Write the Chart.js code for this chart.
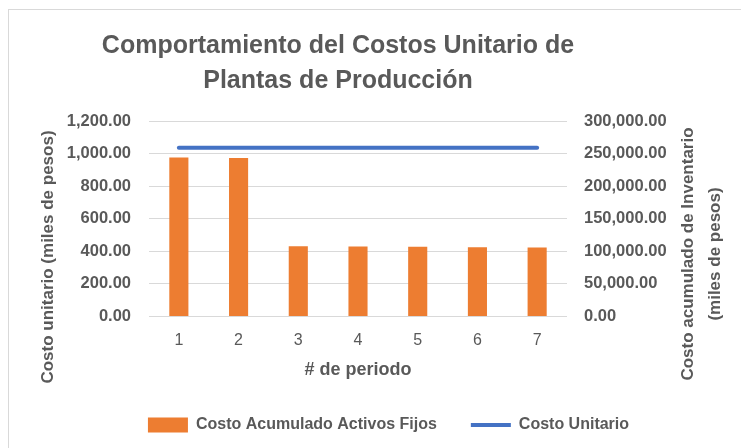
<!DOCTYPE html>
<html>
<head>
<meta charset="utf-8">
<script src="https://cdn.jsdelivr.net/npm/chart.js@4"></script>
<style>
  body { margin: 0; background: #fff; overflow: hidden; width: 741px; height: 448px; position: relative; }
  #frame { position: absolute; left: 8px; top: 9px; width: 800px; height: 500px; border: 1px solid #d9d9d9; }
  #chart { position: absolute; left: 36px; top: 0; }
</style>
</head>
<body>
<div id="frame"></div>
<canvas id="chart" width="705" height="448"></canvas>
<script>
const periods = ["1", "2", "3", "4", "5", "6", "7"];
const costoAcumulado = [244000, 243000, 107400, 106850, 106350, 105800, 105300];
const costoUnitario = [1036, 1036, 1036, 1036, 1036, 1036, 1036];
const leftTickLabels = ["0.00", "200.00", "400.00", "600.00", "800.00", "1,000.00", "1,200.00"];
const rightTickLabels = ["0.00", "50,000.00", "100,000.00", "150,000.00", "200,000.00", "250,000.00", "300,000.00"];

const grey = "#595959";
Chart.defaults.font.family = "'Liberation Sans', Arial, sans-serif";
Chart.defaults.color = grey;

// titles drawn by hand so they can sit where Excel puts them
const textPlugin = {
    id: "textPlugin",
    afterDraw(chart) {
        const c = chart.ctx;
        c.save();
        c.fillStyle = grey;
        c.textAlign = "center";
        c.font = "bold 25px 'Liberation Sans', Arial, sans-serif";
        c.textBaseline = "alphabetic";
        c.fillText("Comportamiento del Costos Unitario de", 302, 53);
        c.fillText("Plantas de Producción", 302, 88);

        c.font = "bold 17px 'Liberation Sans', Arial, sans-serif";
        c.textBaseline = "middle";
        c.save();
        c.translate(12, 257);
        c.rotate(-Math.PI / 2);
        c.fillText("Costo unitario (miles de pesos)", 0, 0);
        c.restore();

        c.save();
        c.translate(652, 254);
        c.rotate(-Math.PI / 2);
        c.fillText("Costo acumulado de Inventario", 0, 0);
        c.fillText("(miles de pesos)", 0, 27);
        c.restore();
        c.restore();
    }
};

const ctx = document.getElementById("chart");
const chart = new Chart(ctx, {
    data: {
        labels: periods,
        datasets: [
            {
                type: "line",
                label: "Costo Unitario",
                data: costoUnitario,
                yAxisID: "y",
                borderColor: "#4472C4",
                backgroundColor: "#4472C4",
                borderWidth: 4,
                borderCapStyle: "round",
                pointRadius: 0,
                order: 0,
            },
            {
                type: "bar",
                label: "Costo Acumulado Activos Fijos",
                data: costoAcumulado,
                yAxisID: "y1",
                backgroundColor: "#ED7D31",
                borderWidth: 0,
                barPercentage: 0.32,
                categoryPercentage: 1,
                order: 1,
            },
        ],
    },
    options: {
        responsive: false,
        animation: false,
        layout: { padding: { top: 121, left: 0, right: 0, bottom: 5 } },
        scales: {
            x: {
                grid: { display: false, drawTicks: false },
                border: { display: false },
                ticks: { padding: 15, font: { size: 16 } },
                title: {
                    display: true,
                    text: "# de periodo",
                    font: { size: 18, weight: "bold" },
                    padding: { top: 9, bottom: 2 },
                },
                afterFit: (s) => { s.height = 67; },
            },
            y: {
                position: "left",
                min: 0,
                max: 1200,
                grid: { color: "#d9d9d9", drawTicks: false },
                border: { display: false },
                ticks: {
                    stepSize: 200,
                    padding: 18,
                    font: { size: 16.5, weight: "bold" },
                    callback: (v, i) => leftTickLabels[i],
                },
                afterFit: (s) => { s.width = 113; },
            },
            y1: {
                position: "right",
                min: 0,
                max: 300000,
                grid: { display: false, drawTicks: false },
                border: { display: false },
                ticks: {
                    stepSize: 50000,
                    padding: 17,
                    font: { size: 16.5, weight: "bold" },
                    callback: (v, i) => rightTickLabels[i],
                },
                afterFit: (s) => { s.width = 174; },
            },
        },
        plugins: {
            legend: {
                position: "bottom",
                reverse: true,
                labels: {
                    usePointStyle: true,
                    pointStyleWidth: 40,
                    boxHeight: 15,
                    padding: 34,
                    color: grey,
                    font: { size: 16, weight: "bold" },
                    generateLabels: (chart) => {
                        const items = Chart.defaults.plugins.legend.labels.generateLabels(chart);
                        items.forEach(item => {
                            const ds = chart.data.datasets[item.datasetIndex];
                            item.pointStyle = ds.type === "line" ? "line" : "rect";
                            if (ds.type !== "line") item.lineWidth = 0;
                        });
                        return items;
                    },
                },
            },
            tooltip: { enabled: false },
        },
    },
    plugins: [textPlugin],
});
</script>
</body>
</html>
